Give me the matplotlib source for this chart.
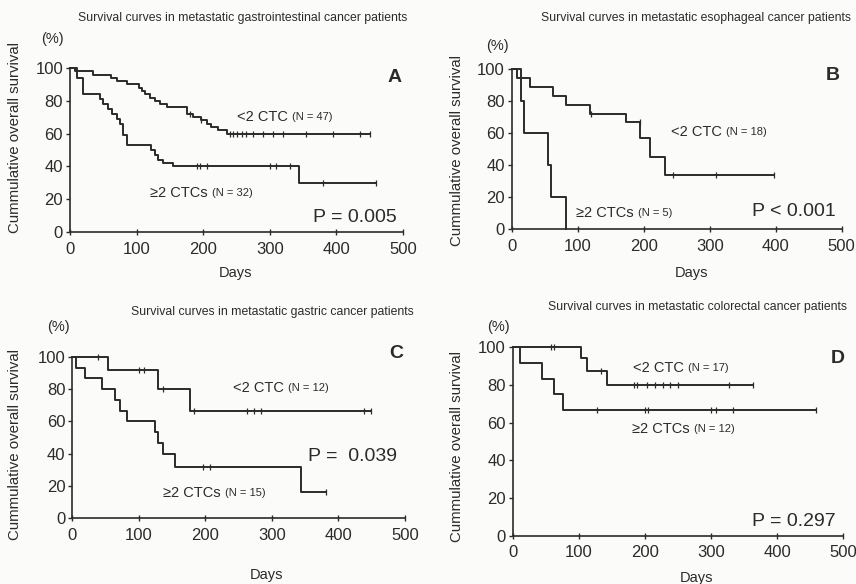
import numpy as np
import matplotlib
matplotlib.use("Agg")
from matplotlib import pyplot as plt

plt.rcParams['font.family'] = ['Liberation Sans', 'DejaVu Sans']

ink = '#2b2b2b'

# panel A - gastrointestinal
a_low_t = [0, 8, 35, 62, 70, 85, 103, 108, 113, 120, 128, 135, 145, 175, 185, 197, 205, 212, 222, 235, 450]
a_low_s = [100, 98, 96, 94, 92, 90, 88, 86, 84, 82, 80, 78, 76, 72, 70, 68, 66, 64, 62, 60, 60]
a_low_c = [180, 197, 240, 245, 250, 258, 265, 275, 290, 305, 320, 355, 395, 435, 450]
a_high_t = [0, 10, 20, 45, 50, 57, 63, 70, 75, 80, 85, 122, 127, 132, 140, 155, 344, 460]
a_high_s = [100, 94, 84, 81, 78, 75, 72, 69, 66, 59, 53, 50, 47, 44, 42, 40, 30, 30]
a_high_c = [190, 195, 205, 300, 310, 330, 380, 460]

# panel B - esophageal
b_low_t = [0, 8, 28, 63, 83, 118, 173, 195, 210, 232, 397]
b_low_s = [100, 94.4, 88.9, 83.3, 77.8, 72.2, 66.7, 56.7, 45.3, 34.0, 34.0]
b_low_c = [120, 194, 245, 310, 397]
b_high_t = [0, 14, 18, 55, 59, 82]
b_high_s = [100, 80, 60, 40, 20, 0]
b_high_c = []

# panel C - gastric
c_low_t = [0, 54, 129, 177, 449]
c_low_s = [100, 91.7, 80, 66.7, 66.7]
c_low_c = [38, 100, 108, 136, 183, 262, 273, 283, 438, 449]
c_high_t = [0, 6, 19, 44, 64, 71, 82, 124, 129, 137, 154, 344, 381]
c_high_s = [100, 93.3, 86.7, 80, 73.3, 66.7, 60, 53.3, 46.7, 40, 32, 16, 16]
c_high_c = [196, 207, 381]

# panel D - colorectal
d_low_t = [0, 104, 112, 142, 363]
d_low_s = [100, 94.1, 87.6, 80, 80]
d_low_c = [58, 62, 133, 183, 188, 203, 215, 228, 238, 250, 327, 363]
d_high_t = [0, 11, 44, 63, 76, 459]
d_high_s = [100, 91.7, 83.3, 75, 66.7, 66.7]
d_high_c = [128, 200, 205, 300, 308, 333, 459]

titles = ["Survival curves in metastatic gastrointestinal cancer patients",
          "Survival curves in metastatic esophageal cancer patients",
          "Survival curves in metastatic gastric cancer patients",
          "Survival curves in metastatic colorectal cancer patients"]
letters = ["A", "B", "C", "D"]
n_low = [47, 18, 12, 17]
n_high = [32, 5, 15, 12]
pvals = ["P = 0.005", "P < 0.001", "P =  0.039", "P = 0.297"]
xticks = [0, 100, 200, 300, 400, 500]
yticks = [0, 20, 40, 60, 80, 100]

W, H = 856, 584
fig = plt.figure(figsize=(W / 100, H / 100), dpi=100)


def fx(px):
    return px / W


def fy(py):
    return 1 - py / H


# axes boxes in pixels: x0, x500, y100, y0
boxes = [(70, 403, 68, 232), (511.7, 841.7, 69, 229.3),
         (72.3, 405, 356.7, 518.3), (512.7, 843.3, 347.3, 535.7)]

curves = [(a_low_t, a_low_s, a_low_c, a_high_t, a_high_s, a_high_c),
          (b_low_t, b_low_s, b_low_c, b_high_t, b_high_s, b_high_c),
          (c_low_t, c_low_s, c_low_c, c_high_t, c_high_s, c_high_c),
          (d_low_t, d_low_s, d_low_c, d_high_t, d_high_s, d_high_c)]

# text placement (pixels / data coords)
title_pos = [(243, 18), (695.6, 18), (272.5, 311.7), (698, 306.7)]
pct_pos = [(52, 39), (497, 46), (58, 326.7), (498.3, 326.7)]
letter_pos = [(395, 77), (833, 75), (396.7, 353.3), (838, 358.3)]
days_pos = [(235, 273), (691.7, 273), (266.7, 575), (696.7, 578.3)]
ylab_pos = [(15, 138), (456.7, 150), (15, 444), (456.7, 446.7)]
low_lab = [(251, 70), (242, 61), (242, 80.4), (182.5, 88.8)]
high_lab = [(120, 24), (98, 10), (137, 15.5), (180, 56.5)]
p_pos = [(428, 9), (428, 11), (421, 38), (425, 7.4)]


def km(ax, t, s, cens):
    t = np.array(t, float)
    s = np.array(s, float)
    ax.step(t, s, where='post', color=ink, lw=1.4, clip_on=False)
    if len(cens):
        idx = np.searchsorted(t, cens, side='right') - 1
        ax.plot(cens, s[idx], ls='none', marker='|', ms=4, mew=0.9,
                color=ink, clip_on=False)


def group_label(ax, x, y, main, n):
    t = ax.text(x, y, main, fontsize=10.5, color=ink, va='center')
    ax.annotate("(N = %d)" % n, xy=(1, 0.5), xycoords=t, xytext=(3, 0),
                textcoords='offset points', fontsize=8, color=ink,
                ha='left', va='center')


for i in range(4):
    x0, x1, ytop, ybot = boxes[i]
    ax = fig.add_axes([fx(x0), fy(ybot), (x1 - x0) / W, (ybot - ytop) / H])
    ax.set_xlim(0, 500)
    ax.set_ylim(0, 100)
    for sp in ['top', 'right']:
        ax.spines[sp].set_visible(False)
    for sp in ['left', 'bottom']:
        ax.spines[sp].set_color(ink)
        ax.spines[sp].set_linewidth(1.2)
    ax.set_xticks(xticks)
    ax.set_yticks(yticks)
    ax.tick_params(axis='x', direction='inout', length=4, width=1, pad=5,
                   labelsize=12, colors=ink)
    ax.tick_params(axis='y', direction='out', length=3, width=1, pad=2,
                   labelsize=12, colors=ink)
    ax.patch.set_alpha(0)

    lt, ls_, lc, ht, hs, hc = curves[i]
    km(ax, lt, ls_, lc)
    km(ax, ht, hs, hc)

    group_label(ax, low_lab[i][0], low_lab[i][1], "<2 CTC", n_low[i])
    group_label(ax, high_lab[i][0], high_lab[i][1], "\u22652 CTCs", n_high[i])
    ax.text(p_pos[i][0], p_pos[i][1], pvals[i], fontsize=14, color=ink,
            ha='center', va='center')

    fig.text(fx(title_pos[i][0]), fy(title_pos[i][1]), titles[i], fontsize=8.8,
             color=ink, ha='center', va='center')
    fig.text(fx(pct_pos[i][0]), fy(pct_pos[i][1]), "(%)", fontsize=10.5,
             color=ink, ha='center', va='center')
    fig.text(fx(letter_pos[i][0]), fy(letter_pos[i][1]), letters[i], fontsize=14,
             fontweight='bold', color=ink, ha='center', va='center')
    fig.text(fx(days_pos[i][0]), fy(days_pos[i][1]), "Days", fontsize=10.5,
             color=ink, ha='center', va='center')
    fig.text(fx(ylab_pos[i][0]), fy(ylab_pos[i][1]), "Cummulative overall survival",
             fontsize=10.8, color=ink, ha='center', va='center', rotation=90)

fig.savefig("out.png", dpi=100, facecolor='#fbfbfa')
